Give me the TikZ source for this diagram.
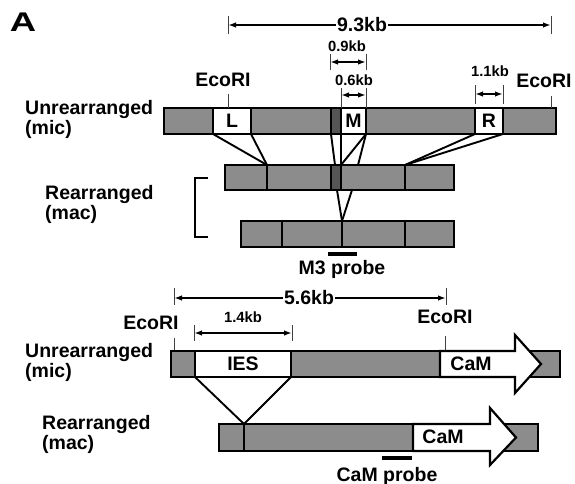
\documentclass[tikz,border=0pt]{standalone}
\usepackage{graphicx}
\usepackage{fontspec}
\setmainfont{Liberation Sans}
\usetikzlibrary{arrows.meta}
\definecolor{bargray}{HTML}{8C8C8C}
\definecolor{darkseg}{HTML}{555555}
\newcommand\bigf{\fontsize{19.5}{20}\selectfont\bfseries}
\newcommand\smlf{\fontsize{14.8}{15}\selectfont\bfseries}
\newcommand\mkseg[6]{\node[#1, minimum width={#4pt-#3pt}, minimum height={#6pt-#5pt}] (#2) at ({(#3+#4)/2},{(#5+#6)/2}) {};}
\begin{document}
\begin{tikzpicture}[x=1pt,y=-1pt,
  seg/.style={draw, line width=2.2pt, inner sep=0pt, outer sep=0pt, rectangle, fill=bargray},
  wseg/.style={seg, fill=white},
  dseg/.style={seg, fill=darkseg},
  conn/.style={line width=1.9pt, line cap=round},
  dim/.style={line width=1.6pt, {Latex[length=8pt,width=5.5pt]}-{Latex[length=8pt,width=5.5pt]}},
  tick/.style={line width=1pt, black!75},
  lab/.style={font=\bigf, inner sep=0pt},
  slab/.style={font=\smlf, inner sep=0pt},
  dlab/.style={font=\bigf, fill=white, inner xsep=1.5pt, inner ysep=0pt},
  side/.style={font=\bigf, align=left, anchor=west, inner sep=0pt},
  probe/.style={line width=4.5pt},
  camarrow/.style={draw, line width=2.2pt, fill=white, line join=miter}
]
\useasboundingbox (0,0) rectangle (575,484);

\node[font=\fontsize{27}{27}\selectfont\bfseries, inner sep=0pt] (A) at (23,22.5) {\scalebox{1.35}[1]{A}};

% ---------- top: unrearranged (mic) ----------
\mkseg{seg}{m1a}{164}{213}{108}{134}
\node[wseg, minimum width=38pt, minimum height=26pt, font=\bigf] (L) at (232,121) {L};
\mkseg{seg}{m1b}{251}{331}{108}{134}
\mkseg{dseg}{dk}{331}{341}{108}{134}
\node[wseg, minimum width=25pt, minimum height=26pt, font=\bigf] (M) at (353.5,121) {M};
\mkseg{seg}{m1c}{366}{475}{108}{134}
\node[wseg, minimum width=28pt, minimum height=26pt, font=\bigf] (R) at (489,121) {R};
\mkseg{seg}{m1d}{503}{556}{108}{134}

% ---------- rearranged (mac) bar 1 ----------
\mkseg{seg}{a1}{225}{267}{165}{190}
\mkseg{seg}{b1}{267}{331}{165}{190}
\mkseg{dseg}{dk1}{331}{341}{165}{190}
\mkseg{seg}{c1}{341}{405}{165}{190}
\mkseg{seg}{d1}{405}{454}{165}{190}

% ---------- rearranged (mac) bar 2 ----------
\mkseg{seg}{a2}{241}{282}{221}{247}
\mkseg{seg}{b2}{282}{342}{221}{247}
\mkseg{seg}{c2}{342}{405}{221}{247}
\mkseg{seg}{d2}{405}{454}{221}{247}

% connectors top
\coordinate (q1) at (335,165);
\coordinate (q2) at (358,165);
\coordinate (q3) at (337,190);
\coordinate (q4) at (352,190);
\draw[conn] (L.south west) -- (a1.north east);
\draw[conn] (L.south east) -- (a1.north east);
\draw[conn] (dk.south west) -- (q1);
\draw[conn] (dk.south east) -- (dk1.north east);
\draw[conn] (M.south east) -- (dk1.north east);
\draw[conn] (M.south east) -- (q2);
\draw[conn] (R.south west) -- (d1.north west);
\draw[conn] (R.south east) -- (d1.north west);
\draw[conn] (q3) -- (c2.north west);
\draw[conn] (q4) -- (c2.north west);

% bracket
\draw[line width=2pt] (208,178) -- (195,178) -- (195,237) -- (208,237);

% M3 probe
\coordinate (pr1a) at (328,254);
\coordinate (pr1b) at (357,254);
\draw[probe] (pr1a) -- (pr1b);
\node[lab] (m3) at (342,269) {M3 probe};

% dimensions top
\coordinate (t93a) at (228,25);
\coordinate (t93b) at (551,25);
\draw[tick] (228,16) -- (228,34);
\draw[tick] (551,16) -- (551,34);
\draw[dim] (t93a) -- (t93b);
\node[dlab] (l93) at (362,25) {9.3kb};

\coordinate (t09a) at (330,62);
\coordinate (t09b) at (366,62);
\draw[tick] (330,54) -- (330,70);
\draw[tick] (366,54) -- (366,70);
\draw[dim] (t09a) -- (t09b);
\node[slab] (l09) at (347,46) {0.9kb};

\coordinate (t06a) at (341,95);
\coordinate (t06b) at (366,95);
\draw[tick] (341,88) -- (341,108);
\draw[tick] (366,88) -- (366,108);
\draw[dim] (t06a) -- (t06b);
\node[slab] (l06) at (354,80) {0.6kb};

\coordinate (t11a) at (475,94);
\coordinate (t11b) at (503,94);
\draw[tick] (475,85) -- (475,104);
\draw[tick] (503,85) -- (503,104);
\draw[dim] (t11a) -- (t11b);
\node[slab] (l11) at (490,71) {1.1kb};

\node[lab] (eco1) at (223,80) {EcoRI};
\draw[tick] (228,94) -- (228,108);
\node[lab] (eco2) at (544,81) {EcoRI};
\draw[tick] (551,96) -- (551,108);

% side labels
\node[side] (u1) at (25,119) {Unrearranged\\(mic)};
\node[side] (r1) at (45,204) {Rearranged\\(mac)};
\node[side] (u2) at (25,362) {Unrearranged\\(mic)};
\node[side] (r2) at (42,434) {Rearranged\\(mac)};

% ---------- bottom ----------
\coordinate (t56a) at (174,298);
\coordinate (t56b) at (446,298);
\draw[tick] (174,288) -- (174,305);
\draw[tick] (446,288) -- (446,305);
\draw[dim] (t56a) -- (t56b);
\node[dlab] (l56) at (309,298) {5.6kb};

\coordinate (t14a) at (194,333);
\coordinate (t14b) at (292,333);
\draw[tick] (194,325) -- (194,341);
\draw[tick] (292,325) -- (292,341);
\draw[dim] (t14a) -- (t14b);
\node[slab] (l14) at (243,317) {1.4kb};

\node[lab] (eco3) at (151,323) {EcoRI};
\draw[tick] (174,338) -- (174,351);
\node[lab] (eco4) at (445,317) {EcoRI};
\draw[tick] (445,336) -- (445,351);

\mkseg{seg}{m2a}{171}{195}{351}{377}
\node[wseg, minimum width=96pt, minimum height=26pt, font=\bigf] (IES) at (243,364) {IES};
\mkseg{seg}{m2b}{291}{560}{351}{377}
\draw[camarrow] (440,351) -- (515,351) -- (515,335) -- (541,364) -- (515,393) -- (515,377) -- (440,377) -- cycle;
\node[lab] (cam1) at (471,364) {CaM};

\mkseg{seg}{n2a}{219}{244}{424}{451}
\mkseg{seg}{n2b}{244}{538}{424}{451}
\draw[camarrow] (413,424) -- (490,424) -- (490,408) -- (516,437.5) -- (490,465) -- (490,451) -- (413,451) -- cycle;
\node[lab] (cam2) at (443,437) {CaM};

\draw[conn] (IES.south west) -- (n2b.north west);
\draw[conn] (IES.south east) -- (n2b.north west);

\coordinate (pr2a) at (382,458);
\coordinate (pr2b) at (412,458);
\draw[probe] (pr2a) -- (pr2b);
\node[lab] (camp) at (387,476) {CaM probe};
\end{tikzpicture}
\end{document}
